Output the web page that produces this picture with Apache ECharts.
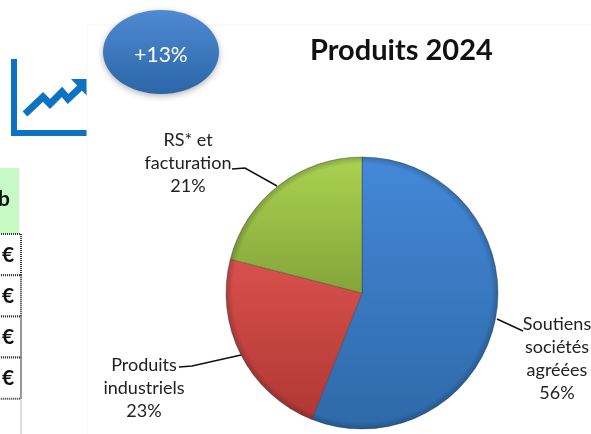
<!DOCTYPE html>
<html><head><meta charset="utf-8">
<style>html,body{margin:0;padding:0;background:#fff}#c{width:591px;height:434px}</style>
<script src="https://cdn.jsdelivr.net/npm/echarts@6/dist/echarts.min.js"></script>
</head><body><div id="c"></div>
<script>
var categories = ['Soutiens\nsociétés\nagréées', 'Produits\nindustriels', 'RS* et\nfacturation'];
var values = [56, 23, 21];
var topColors = ['#4488d8', '#d9514d', '#abd250'];
var bottomColors = ['#2e69a8', '#b03733', '#84a43a'];
var titleText = 'Produits 2024';
var badgeText = '+13%';
var tableGlyphs = ['€', '€', '€', '€'];
var font = 'Lato';

var chart = echarts.init(document.getElementById('c'));
var cx = 362, cy = 293, R = 136;
function ln(a, b) { return new echarts.graphic.LinearGradient(0, 0, 0, 1, [{offset: 0, color: a}, {offset: 1, color: b}]); }

var labelPos = [
  {x: 557, y: 359},
  {x: 144, y: 388},
  {x: 188, y: 163}
];
var lines = [
  [[497, 319], [523, 331]],
  [[241, 355], [192, 366], [179, 367]],
  [[277, 186], [245, 168], [232, 169]]
];

var g = [];
// table fragment on the left
g.push({type: 'rect', shape: {x: 0, y: 168, width: 19, height: 66}, style: {fill: '#c6f9c4'}, silent: true});
g.push({type: 'text', style: {x: 4, y: 199, text: 'b', font: 'bold 21px ' + font, fill: '#111', align: 'center', verticalAlign: 'middle'}});
tableGlyphs.forEach(function (t, i) {
  var y = 234 + i * 41.2;
  g.push({type: 'rect', shape: {x: -3, y: y, width: 24, height: 41.2}, style: {fill: '#fff', stroke: '#333', lineWidth: 2, lineDash: [1, 1]}});
  g.push({type: 'text', style: {x: 8, y: y + 21, text: t, font: 'bold 21px ' + font, fill: '#111', align: 'center', verticalAlign: 'middle'}});
});
g.push({type: 'rect', shape: {x: 20, y: 400, width: 2, height: 34}, style: {fill: '#dcdcdc'}});
// trend icon
g.push({type: 'polyline', shape: {points: [[14, 59], [14, 133], [88, 133]]}, style: {fill: 'none', stroke: '#0b72c4', lineWidth: 6}});
g.push({type: 'polyline', shape: {points: [[25, 114], [43, 97], [50, 104], [62, 92], [68, 99], [84, 84]]}, style: {fill: 'none', stroke: '#0b72c4', lineWidth: 7}});
g.push({type: 'polygon', shape: {points: [[71, 79], [88, 79], [88, 97]]}, style: {fill: '#0b72c4'}});
// panel separator
g.push({type: 'rect', shape: {x: 87, y: 25, width: 510, height: 415}, style: {fill: '#fff', stroke: '#f6f6f6', lineWidth: 1}, z: 0});
// badge
g.push({type: 'ellipse', shape: {cx: 161, cy: 52, rx: 58, ry: 42},
  style: {fill: ln('#4f8ad2', '#2c66a8'), shadowBlur: 6, shadowColor: 'rgba(0,0,0,0.3)', shadowOffsetY: 2}, z: 5});
g.push({type: 'text', style: {x: 161, y: 55, text: badgeText, font: '21px ' + font, fill: '#fff', align: 'center', verticalAlign: 'middle'}, z: 6});
// leader lines
lines.forEach(function (p) {
  g.push({type: 'polyline', shape: {points: p}, style: {fill: 'none', stroke: '#111', lineWidth: 1.5}, z: 6, silent: true});
});

var data = categories.map(function (c, i) {
  return {name: c, value: values[i], itemStyle: {color: ln(topColors[i], bottomColors[i])}};
});
var rim = {
  type: 'radial', x: cx, y: cy, r: R, global: true,
  colorStops: [{offset: 0, color: 'rgba(0,0,0,0)'}, {offset: 0.95, color: 'rgba(0,0,0,0)'}, {offset: 1, color: 'rgba(0,20,40,0.22)'}]
};

chart.setOption({
  animation: false,
  title: {text: titleText, left: 305, top: 31, textStyle: {fontFamily: font, fontWeight: 'bold', fontSize: 29, color: '#111'}},
  graphic: g,
  series: [{
    type: 'pie', z: 3, center: [cx, cy], radius: [0, R], startAngle: 90, clockwise: true, minAngle: 0,
    itemStyle: {borderColor: 'rgba(40,50,40,0.35)', borderWidth: 1},
    emphasis: {disabled: true},
    label: {
      show: true, fontFamily: font, fontSize: 18, lineHeight: 23, color: '#222', align: 'center', overflow: 'none',
      formatter: function (p) { return p.name + '\n' + p.value + '%'; }
    },
    labelLine: {show: false},
    labelLayout: function (p) {
      var q = labelPos[p.dataIndex];
      return {x: q.x, y: q.y, align: 'center', verticalAlign: 'middle'};
    },
    data: data
  }, {
    type: 'pie', z: 4, silent: true, center: [cx, cy], radius: [0, R], startAngle: 90, clockwise: true,
    label: {show: false}, labelLine: {show: false}, emphasis: {disabled: true},
    itemStyle: {color: rim},
    data: values.slice()
  }]
});
</script></body></html>
